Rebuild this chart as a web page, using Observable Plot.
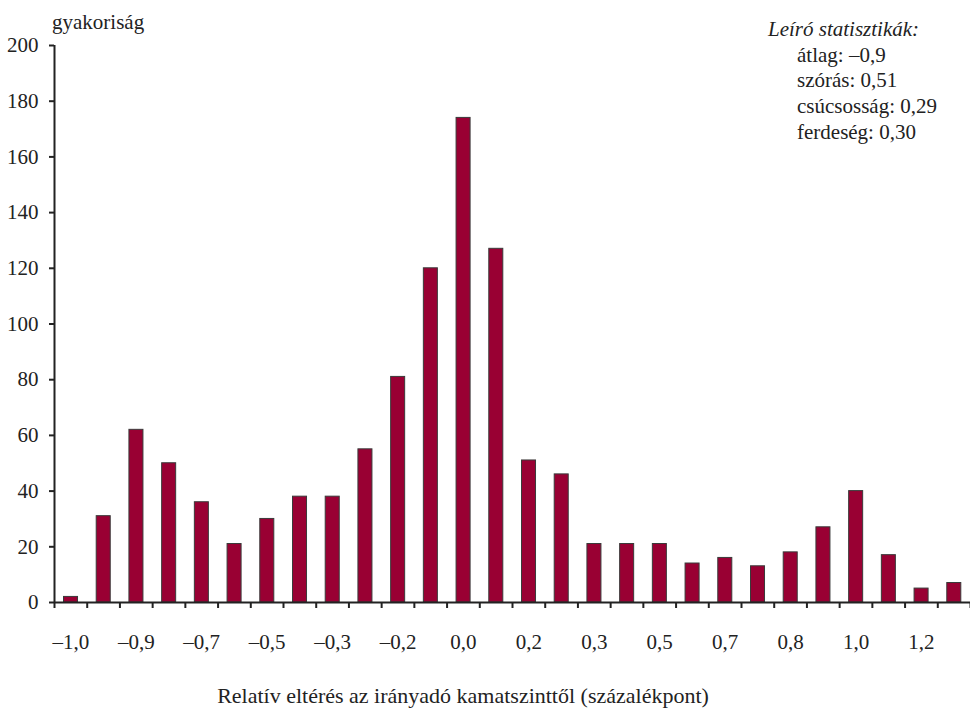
<!DOCTYPE html>
<html><head><meta charset="utf-8">
<script src="https://cdn.jsdelivr.net/npm/d3@7"></script>
<script src="https://cdn.jsdelivr.net/npm/@observablehq/plot@0.6"></script>
<style>
body{margin:0;background:#fff;}
#wrap{position:relative;width:970px;height:710px;font-family:"Liberation Serif","Times New Roman",serif;color:#222;overflow:hidden;}
.t{position:absolute;white-space:nowrap;font-size:21px;line-height:1;}
#stats div{height:25.7px;}
</style></head><body>
<div id="wrap">
<div id="chart"></div>
<div class="t" style="left:52px;top:12px">gyakoriság</div>
<div class="t" id="stats" style="left:768px;top:19px">
<div style="font-style:italic">Leíró statisztikák:</div>
<div style="padding-left:29px">átlag: –0,9</div>
<div style="padding-left:29px">szórás: 0,51</div>
<div style="padding-left:29px">csúcsosság: 0,29</div>
<div style="padding-left:29px">ferdeség: 0,30</div>
</div>
<div class="t" style="left:0;width:926px;text-align:center;top:685px;font-size:22px">Relatív eltérés az irányadó kamatszinttől (százalékpont)</div>
</div>
<script>
const frequencies = [2,31,62,50,36,21,30,38,38,55,81,120,174,127,51,46,21,21,21,14,16,13,18,27,40,17,5,7];
const tickLabels = ["–1,0","–0,9","–0,7","–0,5","–0,3","–0,2","0,0","0,2","0,3","0,5","0,7","0,8","1,0","1,2"];
const yTicks = [0,20,40,60,80,100,120,140,160,180,200];

const data = frequencies.map((v, i) => ({i, v}));
const labelPos = tickLabels.map((_, k) => 2 * k + 0.5);

const chart = Plot.plot({
  width: 970,
  height: 710,
  marginTop: 45,
  marginBottom: 108,
  marginLeft: 54,
  marginRight: 0,
  style: {fontFamily: '"Liberation Serif","Times New Roman",serif', fontSize: "21px", color: "#222", background: "#fff"},
  x: {domain: [0, frequencies.length]},
  y: {domain: [0, 200]},
  marks: [
    Plot.rectY(data, {x1: d => d.i, x2: d => d.i + 1, y: "v", insetLeft: 9.5, insetRight: 9.2, fill: "#990033", stroke: "#3a3a3a", strokeWidth: 1}),
    Plot.axisX({ticks: d3.range(frequencies.length + 1), tickSize: 6, tickFormat: () => "", strokeWidth: 2, stroke: "#222", label: null}),
    Plot.axisX({ticks: labelPos, tickSize: 0, tickPadding: 32, tickFormat: (d) => tickLabels[(d - 0.5) / 2], label: null, fontSize: 21}),
    Plot.axisY({ticks: yTicks, tickSize: 5, tickPadding: 11, strokeWidth: 2, stroke: "#222", label: null, fontSize: 21}),
    Plot.ruleY([0], {stroke: "#222", strokeWidth: 2}),
    Plot.ruleX([0], {y1: 0, y2: 200, stroke: "#222", strokeWidth: 2})
  ]
});
document.getElementById("chart").appendChild(chart);
</script>
</body></html>
